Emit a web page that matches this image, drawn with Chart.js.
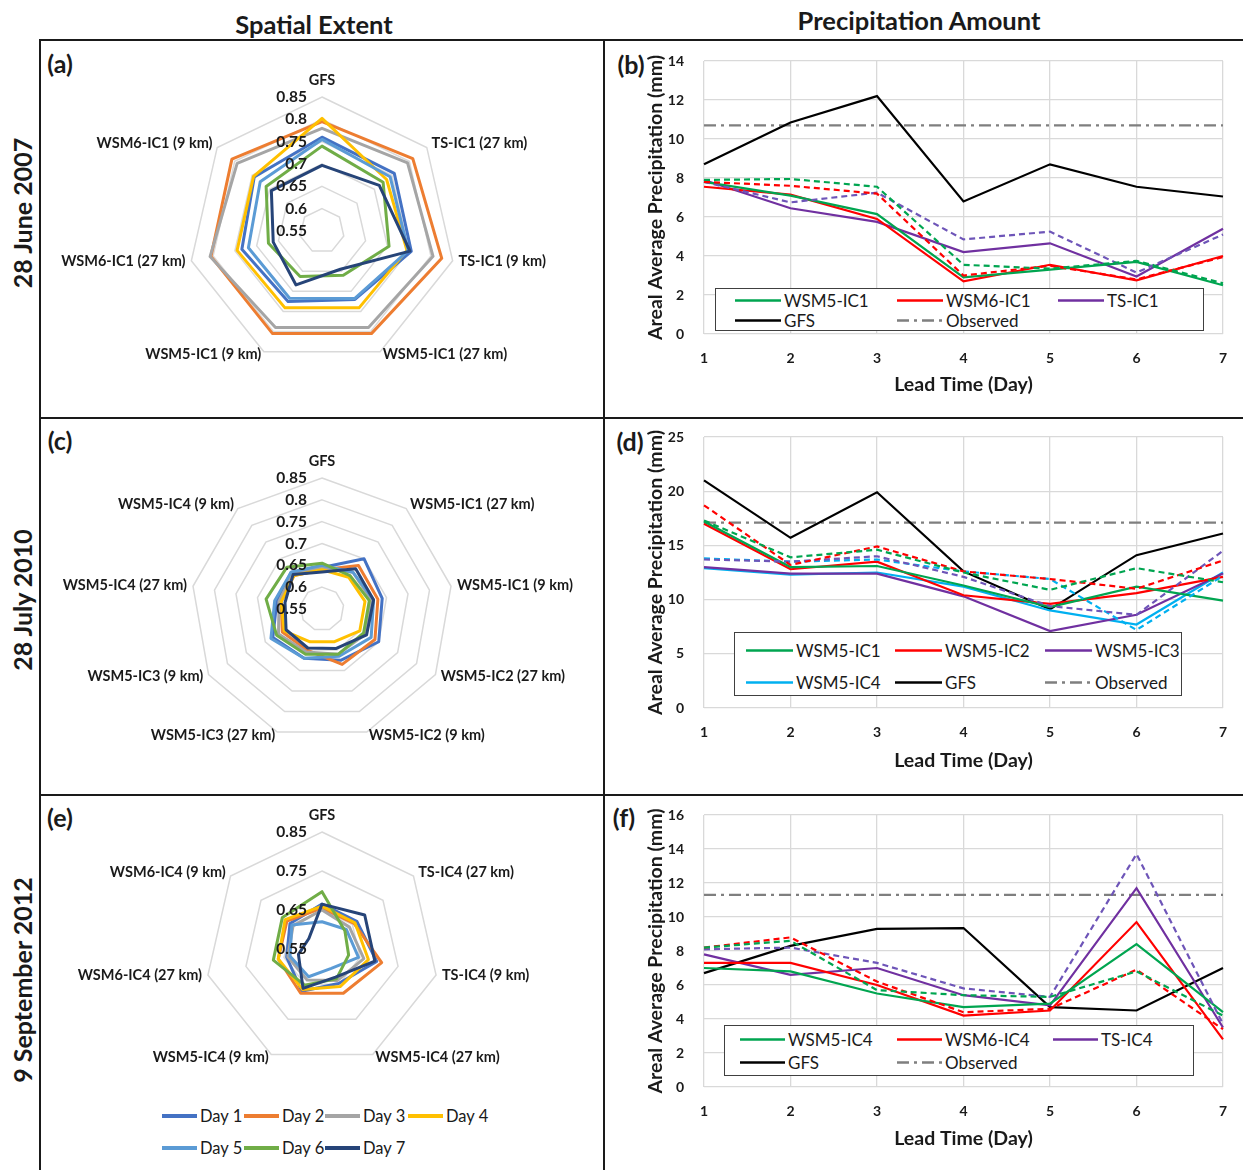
<!DOCTYPE html>
<html>
<head>
<meta charset="utf-8">
<script src="https://cdn.jsdelivr.net/npm/chart.js@4.4.1/dist/chart.umd.min.js"></script>
<style>
  body { margin: 0; background: #fff; }
  #page { position: relative; width: 1243px; height: 1170px; background: #fff; overflow: hidden;
          font-family: Lato, 'Open Sans', sans-serif; color: #1a1a1a; }
  canvas { position: absolute; }
  .rule { position: absolute; background: #1a1a1a; }
  .txt { position: absolute; font-weight: bold; white-space: nowrap; transform: translate(-50%, -50%); }
  .rot { position: absolute; font-weight: bold; white-space: nowrap; font-size: 25px;
         transform: translate(-50%, -50%) rotate(-90deg); }
  .legend { position: absolute; background: #fff; box-sizing: border-box; }
  .item { position: absolute; display: flex; align-items: center; white-space: nowrap; transform: translateY(-50%); }
  .item svg { margin-right: 3px; }
</style>
</head>
<body>
<div id="page">
  <div class="rule" style="left:40px;top:39px;width:1203px;height:2px"></div>
  <div class="rule" style="left:39px;top:39px;width:2px;height:1131px"></div>
  <div class="rule" style="left:603px;top:39px;width:2px;height:1131px"></div>
  <div class="rule" style="left:40px;top:417px;width:1203px;height:2px"></div>
  <div class="rule" style="left:40px;top:794px;width:1203px;height:2px"></div>

  <div class="txt" style="left:314px;top:24px;font-size:25.5px">Spatial Extent</div>
  <div class="txt" style="left:919px;top:20px;font-size:25.5px">Precipitation Amount</div>
  <div class="rot" style="left:22px;top:213px">28 June 2007</div>
  <div class="rot" style="left:22px;top:600px">28 July 2010</div>
  <div class="rot" style="left:22px;top:980px">9 September 2012</div>

  <div class="txt" style="left:60px;top:63px;font-size:25px">(a)</div>
  <div class="txt" style="left:631px;top:64px;font-size:25px">(b)</div>
  <div class="txt" style="left:60px;top:440px;font-size:25px">(c)</div>
  <div class="txt" style="left:630px;top:441px;font-size:25px">(d)</div>
  <div class="txt" style="left:60px;top:817px;font-size:25px">(e)</div>
  <div class="txt" style="left:624px;top:817px;font-size:25px">(f)</div>

  <canvas id="radarA" width="560" height="375" style="left:42px;top:42px"></canvas>
  <canvas id="radarC" width="560" height="374" style="left:42px;top:420px"></canvas>
  <canvas id="radarE" width="560" height="300" style="left:42px;top:797px"></canvas>
  <canvas id="lineB" width="637" height="375" style="left:606px;top:42px"></canvas>
  <canvas id="lineD" width="637" height="374" style="left:606px;top:420px"></canvas>
  <canvas id="lineF" width="637" height="373" style="left:606px;top:797px"></canvas>
</div>

<script>
// ---- spatial extent (radar) ----
const dayNames = ['Day 1', 'Day 2', 'Day 3', 'Day 4', 'Day 5', 'Day 6', 'Day 7']
const dayColors = ['#4472C4', '#ED7D31', '#A5A5A5', '#FFC000', '#5B9BD5', '#70AD47', '#264478']

const axesA = ['GFS', 'TS-IC1 (27 km)', 'TS-IC1 (9 km)', 'WSM5-IC1 (27 km)', 'WSM5-IC1 (9 km)', 'WSM6-IC1 (27 km)', 'WSM6-IC1 (9 km)']
const extentA = [
    [0.760, 0.757, 0.755, 0.720, 0.725, 0.734, 0.744],
    [0.795, 0.810, 0.825, 0.805, 0.805, 0.805, 0.808],
    [0.780, 0.795, 0.805, 0.790, 0.790, 0.807, 0.793],
    [0.802, 0.735, 0.745, 0.741, 0.741, 0.745, 0.746],
    [0.755, 0.745, 0.748, 0.718, 0.717, 0.719, 0.727],
    [0.740, 0.725, 0.704, 0.660, 0.663, 0.673, 0.710],
    [0.697, 0.714, 0.752, 0.645, 0.684, 0.662, 0.695],
]

const axesC = ['GFS', 'WSM5-IC1 (27 km)', 'WSM5-IC1 (9 km)', 'WSM5-IC2 (27 km)', 'WSM5-IC2 (9 km)',
    'WSM5-IC3 (27 km)', 'WSM5-IC3 (9 km)', 'WSM5-IC4 (27 km)', 'WSM5-IC4 (9 km)']
const extentC = [
    [0.645, 0.700, 0.690, 0.700, 0.675, 0.670, 0.680, 0.655, 0.660],
    [0.640, 0.680, 0.680, 0.690, 0.685, 0.650, 0.655, 0.645, 0.650],
    [0.645, 0.660, 0.665, 0.665, 0.660, 0.655, 0.665, 0.650, 0.655],
    [0.640, 0.645, 0.650, 0.650, 0.630, 0.630, 0.650, 0.645, 0.650],
    [0.650, 0.660, 0.670, 0.680, 0.665, 0.670, 0.685, 0.660, 0.660],
    [0.655, 0.650, 0.660, 0.660, 0.660, 0.660, 0.670, 0.680, 0.675],
    [0.635, 0.670, 0.670, 0.668, 0.646, 0.645, 0.645, 0.636, 0.653],
]

const axesE = ['GFS', 'TS-IC4 (27 km)', 'TS-IC4 (9 km)', 'WSM5-IC4 (27 km)', 'WSM5-IC4 (9 km)', 'WSM6-IC4 (27 km)', 'WSM6-IC4 (9 km)']
const extentE = [
    [0.665, 0.664, 0.694, 0.648, 0.670, 0.643, 0.655],
    [0.655, 0.655, 0.707, 0.676, 0.676, 0.665, 0.665],
    [0.650, 0.640, 0.660, 0.640, 0.638, 0.640, 0.645],
    [0.660, 0.658, 0.672, 0.657, 0.665, 0.665, 0.671],
    [0.620, 0.630, 0.646, 0.605, 0.629, 0.634, 0.649],
    [0.697, 0.625, 0.620, 0.635, 0.653, 0.678, 0.680],
    [0.665, 0.690, 0.689, 0.630, 0.662, 0.612, 0.593],
]

// ---- precipitation amount (line) ----
const leadDays = ['1', '2', '3', '4', '5', '6', '7']

const bGfs = [8.7, 10.85, 12.2, 6.8, 8.7, 7.55, 7.05]
const bObserved = [10.7, 10.7, 10.7, 10.7, 10.7, 10.7, 10.7]
const bWsm5 = [7.8, 7.1, 6.15, 2.9, 3.3, 3.7, 2.5]
const bWsm5Dash = [7.9, 7.95, 7.55, 3.55, 3.35, 3.75, 2.6]
const bWsm6 = [7.55, 7.15, 5.9, 2.7, 3.55, 2.75, 4.0]
const bWsm6Dash = [7.8, 7.6, 7.2, 3.0, 3.5, 2.8, 3.95]
const bTs = [7.9, 6.45, 5.75, 4.2, 4.65, 2.95, 5.4]
const bTsDash = [7.8, 6.75, 7.25, 4.85, 5.25, 3.15, 5.1]

const dGfs = [21.0, 15.7, 19.9, 12.6, 9.1, 14.1, 16.1]
const dObserved = [17.1, 17.1, 17.1, 17.1, 17.1, 17.1, 17.1]
const dIc1 = [17.2, 13.0, 13.1, 11.3, 9.3, 11.2, 9.9]
const dIc1Dash = [17.3, 13.9, 14.6, 12.5, 10.9, 12.9, 11.6]
const dIc2 = [17.0, 12.8, 13.5, 10.4, 9.6, 10.6, 12.1]
const dIc2Dash = [18.7, 13.2, 14.9, 12.6, 11.9, 11.0, 13.6]
const dIc3 = [13.0, 12.4, 12.4, 10.3, 7.1, 8.6, 12.4]
const dIc3Dash = [13.7, 13.5, 14.0, 12.1, 9.4, 8.6, 14.5]
const dIc4 = [12.9, 12.3, 12.5, 11.2, 9.0, 7.7, 12.5]
const dIc4Dash = [13.8, 13.5, 13.7, 12.6, 11.9, 7.2, 12.2]

const fGfs = [6.7, 8.3, 9.3, 9.35, 4.7, 4.5, 7.0]
const fObserved = [11.3, 11.3, 11.3, 11.3, 11.3, 11.3, 11.3]
const fWsm5 = [7.0, 6.8, 5.5, 4.7, 4.9, 8.4, 4.4]
const fWsm5Dash = [8.2, 8.6, 5.7, 5.4, 5.3, 6.8, 4.2]
const fWsm6 = [7.3, 7.3, 6.0, 4.2, 4.5, 9.7, 2.8]
const fWsm6Dash = [8.2, 8.8, 6.2, 4.4, 4.6, 6.9, 3.4]
const fTs = [7.8, 6.6, 7.0, 5.4, 4.8, 11.7, 3.5]
const fTsDash = [8.1, 8.2, 7.3, 5.8, 5.3, 13.7, 3.7]

const GREEN = '#00A550', RED = '#FF0000', PURPLE = '#7030A0', PURPLE_DASH = '#6E55B8'
const CYAN = '#00B0F0', BLACK = '#000000', GREY = '#7F7F7F'
const DASH = [6, 4], DASH_DOT = [12, 5, 3, 5]

Chart.defaults.font.family = "Lato, 'Open Sans', sans-serif"
Chart.defaults.color = '#1a1a1a'
Chart.defaults.animation = false
Chart.defaults.plugins.legend.display = false
Chart.defaults.plugins.tooltip.enabled = false

// tick values and axis names, drawn like the spreadsheet does it
const radarText = {
    id: 'radarText',
    afterDraw(chart) {
        const s = chart.scales.r
        const ctx = chart.ctx
        ctx.save()
        ctx.fillStyle = '#1a1a1a'
        ctx.textBaseline = 'middle'
        ctx.font = "bold 15.5px Lato, 'Open Sans', sans-serif"
        ctx.textAlign = 'right'
        s.ticks.forEach(t => {
            const d = s.getDistanceFromCenterForValue(t.value)
            ctx.fillText(String(parseFloat(t.value.toFixed(2))), s.xCenter - 15, s.yCenter - d)
        })
        ctx.font = "bold 14.5px Lato, 'Open Sans', sans-serif"
        chart.data.labels.forEach((label, i) => {
            const a = s.getIndexAngle(i)
            const p = s.getPointPosition(i, s.drawingArea)
            const sn = Math.sin(a), cs = Math.cos(a)
            let x = p.x, y = p.y
            if (Math.abs(sn) < 0.01) {
                ctx.textAlign = 'center'
                y -= 17
            } else {
                ctx.textAlign = sn > 0 ? 'left' : 'right'
                x += 6 * sn
                y += cs > 0 ? -6 * cs : -3 * cs
            }
            ctx.fillText(label, x, y)
        })
        ctx.restore()
    }
}

function makeRadar(id, labels, values, min, max, step, cx, cy, radius) {
    return new Chart(document.getElementById(id), {
        type: 'radar',
        data: {
            labels: labels,
            datasets: values.map((data, i) => ({
                label: dayNames[i],
                data: data,
                borderColor: dayColors[i],
                backgroundColor: 'transparent',
                borderWidth: 3,
                borderJoinStyle: 'round',
                pointRadius: 0,
                fill: false,
                order: values.length - i,
            }))
        },
        options: {
            responsive: false,
            scales: {
                r: {
                    min: min,
                    max: max,
                    ticks: {stepSize: step, display: false},
                    grid: {color: '#D9D9D9', lineWidth: 1.5},
                    angleLines: {display: false},
                    pointLabels: {display: false},
                    afterFit: s => {
                        s.xCenter = cx
                        s.yCenter = cy
                        s.drawingArea = radius
                    }
                }
            }
        },
        plugins: [radarText]
    })
}

makeRadar('radarA', axesA, extentA, 0.55, 0.85, 0.05, 280, 189, 134)
makeRadar('radarC', axesC, extentC, 0.55, 0.85, 0.05, 280, 189, 131)
makeRadar('radarE', axesE, extentE, 0.55, 0.85, 0.1, 280, 152, 117)

function solid(label, data, color) {
    return {label, data, borderColor: color, backgroundColor: color, borderWidth: 2.2, pointRadius: 0, tension: 0}
}

function dashed(label, data, color) {
    return Object.assign(solid(label, data, color), {borderDash: DASH})
}

function observed(data) {
    return Object.assign(solid('Observed', data, GREY), {borderDash: DASH_DOT})
}

// canvas sits at page y = canvasTop; plot spans plotTop..plotBottom, x title centred at titleY
function makeLine(id, canvasTop, plotTop, plotBottom, titleY, yMax, yStep, datasets) {
    const canvas = document.getElementById(id)
    const titleSize = 19.5
    const half = titleSize * 1.2 / 2
    const scaleBottom = titleY + half
    const padLeft = 656 - half - 606
    const axisFont = {size: 14, weight: 'bold'}
    const titleFont = {size: titleSize, weight: 'bold'}
    const grid = {color: '#D9D9D9', lineWidth: 1.3, drawTicks: false}

    return new Chart(canvas, {
        type: 'line',
        data: {labels: leadDays, datasets: datasets},
        options: {
            responsive: false,
            layout: {
                padding: {
                    left: padLeft,
                    right: 20,
                    top: plotTop - canvasTop,
                    bottom: canvas.height - (scaleBottom - canvasTop)
                }
            },
            scales: {
                x: {
                    offset: false,
                    grid: grid,
                    border: {display: false},
                    ticks: {padding: 16, font: axisFont, maxRotation: 0},
                    title: {display: true, text: 'Lead Time (Day)', font: titleFont, padding: 0},
                    afterFit: s => {
                        s.height = scaleBottom - plotBottom
                        s.paddingLeft = 0
                        s.paddingRight = 0
                    }
                },
                y: {
                    min: 0,
                    max: yMax,
                    grid: grid,
                    border: {display: false},
                    ticks: {stepSize: yStep, padding: 20, font: axisFont},
                    title: {display: true, text: 'Areal Average Precipitation (mm)', font: titleFont, padding: 0},
                    afterFit: s => {
                        s.width = 98 - padLeft
                        s.paddingTop = 0
                        s.paddingBottom = 0
                    }
                }
            }
        }
    })
}

makeLine('lineB', 42, 61, 334, 385, 14, 2, [
    dashed('WSM5-IC1 (27 km)', bWsm5Dash, GREEN),
    dashed('WSM6-IC1 (27 km)', bWsm6Dash, RED),
    dashed('TS-IC1 (27 km)', bTsDash, PURPLE_DASH),
    solid('WSM5-IC1', bWsm5, GREEN),
    solid('WSM6-IC1', bWsm6, RED),
    solid('TS-IC1', bTs, PURPLE),
    solid('GFS', bGfs, BLACK),
    observed(bObserved),
])

makeLine('lineD', 420, 437, 708, 761, 25, 5, [
    dashed('WSM5-IC1 (27 km)', dIc1Dash, GREEN),
    dashed('WSM5-IC2 (27 km)', dIc2Dash, RED),
    dashed('WSM5-IC3 (27 km)', dIc3Dash, PURPLE_DASH),
    dashed('WSM5-IC4 (27 km)', dIc4Dash, CYAN),
    solid('WSM5-IC1', dIc1, GREEN),
    solid('WSM5-IC2', dIc2, RED),
    solid('WSM5-IC3', dIc3, PURPLE),
    solid('WSM5-IC4', dIc4, CYAN),
    solid('GFS', dGfs, BLACK),
    observed(dObserved),
])

makeLine('lineF', 797, 815, 1087, 1139, 16, 2, [
    dashed('WSM5-IC4 (27 km)', fWsm5Dash, GREEN),
    dashed('WSM6-IC4 (27 km)', fWsm6Dash, RED),
    dashed('TS-IC4 (27 km)', fTsDash, PURPLE_DASH),
    solid('WSM5-IC4', fWsm5, GREEN),
    solid('WSM6-IC4', fWsm6, RED),
    solid('TS-IC4', fTs, PURPLE),
    solid('GFS', fGfs, BLACK),
    observed(fObserved),
])

// ---- legends (html, so they can sit inside the panels) ----
function swatch(color, dash, len, width) {
    const d = dash ? ' stroke-dasharray="' + dash.join(' ') + '"' : ''
    return '<svg width="' + len + '" height="10"><line x1="0" y1="5" x2="' + len + '" y2="5" stroke="' + color +
        '" stroke-width="' + width + '"' + d + '/></svg>'
}

function legend(box, border, cols, rows, entries, len, width, fontSize) {
    const el = document.createElement('div')
    el.className = 'legend'
    el.style.left = box[0] + 'px'
    el.style.top = box[1] + 'px'
    el.style.width = box[2] + 'px'
    el.style.height = box[3] + 'px'
    if (border) el.style.border = '1.5px solid #404040'
    entries.forEach((e, i) => {
        const it = document.createElement('div')
        it.className = 'item'
        it.style.left = (cols[i % cols.length] - box[0]) + 'px'
        it.style.top = (rows[Math.floor(i / cols.length)] - box[1]) + 'px'
        it.style.fontSize = fontSize + 'px'
        it.innerHTML = swatch(e[1], e[2], len, width) + '<span>' + e[0] + '</span>'
        el.appendChild(it)
    })
    document.getElementById('page').appendChild(el)
}

legend([715, 288, 489, 43], true, [734, 896, 1057], [299, 319], [
    ['WSM5-IC1', GREEN], ['WSM6-IC1', RED], ['TS-IC1', PURPLE], ['GFS', BLACK], ['Observed', GREY, DASH_DOT]
], 46, 2.5, 17)

legend([734, 632, 448, 64], true, [745, 894, 1044], [649, 681], [
    ['WSM5-IC1', GREEN], ['WSM5-IC2', RED], ['WSM5-IC3', PURPLE],
    ['WSM5-IC4', CYAN], ['GFS', BLACK], ['Observed', GREY, DASH_DOT]
], 47, 2.5, 17)

legend([724, 1025, 470, 51], true, [739, 896, 1052], [1038, 1061], [
    ['WSM5-IC4', GREEN], ['WSM6-IC4', RED], ['TS-IC4', PURPLE], ['GFS', BLACK], ['Observed', GREY, DASH_DOT]
], 45, 2.5, 17)

legend([150, 1100, 360, 65], false, [162, 244, 325, 408], [1116, 1148],
    dayNames.map((n, i) => [n, dayColors[i]]), 35, 4, 16.5)
</script>
</body>
</html>
